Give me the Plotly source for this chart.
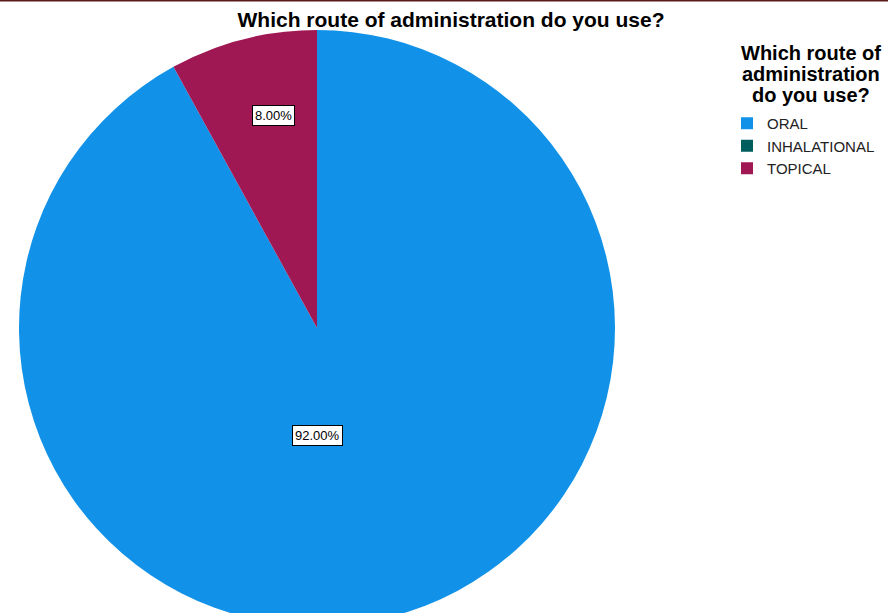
import plotly.graph_objects as go

# ---- data ----
categories = ["ORAL", "INHALATIONAL", "TOPICAL"]
percentages = [92.0, 0.0, 8.0]
colors = ["#1192E8", "#005D5D", "#9F1853"]
chart_title = "Which route of administration do you use?"
legend_title_lines = ["Which route of", "administration", "do you use?"]

W, H = 888, 640  # figure taller than window; bottom of pie is clipped like the reference

def px_x(p):
    return p / W

def px_y(p):
    return 1 - p / H

cx, cy, r = 317, 328, 298

fig = go.Figure()
fig.add_trace(go.Pie(
    labels=categories,
    values=percentages,
    sort=False,
    direction="clockwise",
    rotation=0,
    marker=dict(colors=colors, line=dict(color="#333333", width=0)),
    textinfo="none",
    hoverinfo="label+percent",
    domain=dict(x=[px_x(cx - r), px_x(cx + r)], y=[px_y(cy + r), px_y(cy - r)]),
    showlegend=True,
))

# slice labels (boxed, like SPSS)
label_pos = {"ORAL": (317, 435), "TOPICAL": (273, 115)}
for cat, val in zip(categories, percentages):
    if cat in label_pos:
        x, y = label_pos[cat]
        fig.add_annotation(
            x=px_x(x), y=px_y(y), xref="paper", yref="paper",
            xanchor="center", yanchor="middle",
            text=f"{val:.2f}%", showarrow=False,
            font=dict(family="Liberation Sans, Arial", size=13, color="black"),
            bgcolor="white", bordercolor="black", borderwidth=1, borderpad=2,
        )

# legend title (centered, three lines)
for i, line in enumerate(legend_title_lines):
    fig.add_annotation(
        x=px_x(811), y=px_y(53 + 21 * i), xref="paper", yref="paper",
        xanchor="center", yanchor="middle",
        text=f"<b>{line}</b>", showarrow=False,
        font=dict(family="Liberation Sans, Arial", size=20, color="black"),
    )

fig.add_shape(type="line", xref="paper", yref="paper", x0=0, x1=1, y0=1, y1=1,
              line=dict(color="#5c1a1a", width=3))

fig.update_layout(
    width=W, height=H,
    autosize=False,
    margin=dict(l=0, r=0, t=0, b=0),
    paper_bgcolor="white",
    plot_bgcolor="white",
    title=dict(
        text=f"<b>{chart_title}</b>",
        x=451 / W, xanchor="center",
        y=px_y(20), yanchor="middle",
        font=dict(family="Liberation Sans, Arial", size=21, color="black"),
    ),
    legend=dict(
        x=px_x(727), xanchor="left",
        y=px_y(107), yanchor="top",
        font=dict(family="Liberation Sans, Arial", size=15, color="#222222"),
        bgcolor="rgba(0,0,0,0)",
    ),
)

fig.write_html(
    "out.html",
    config={"displayModeBar": False},
    post_script="document.body.style.margin='0';document.body.style.overflow='hidden';document.documentElement.style.overflow='hidden';",
)
